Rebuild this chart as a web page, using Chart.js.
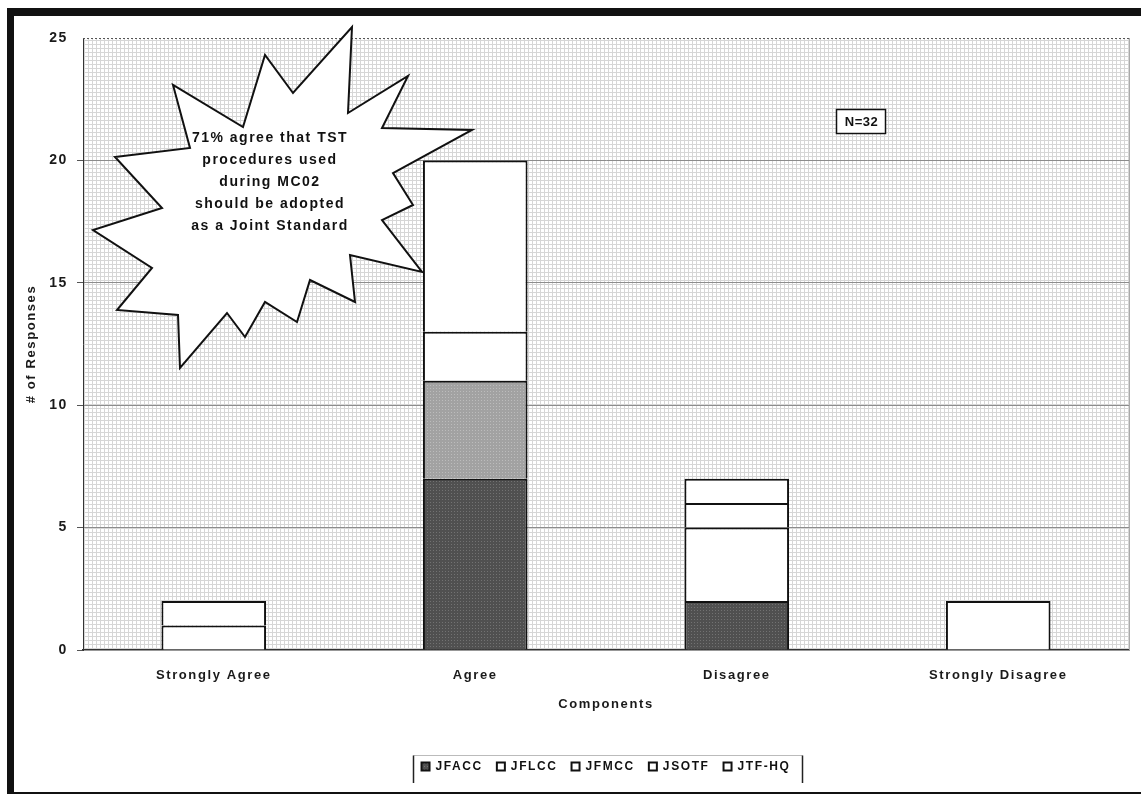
<!DOCTYPE html>
<html><head><meta charset="utf-8">
<script src="https://cdn.jsdelivr.net/npm/chart.js@4/dist/chart.umd.min.js"></script>
<style>html,body{margin:0;padding:0;background:#fff;}#wrap{position:relative;width:1141px;height:794px;}</style>
</head><body><div id="wrap"><canvas id="c" width="1141" height="794"></canvas></div>
<script>
const categories = ['Strongly Agree', 'Agree', 'Disagree', 'Strongly Disagree'];
const seriesNames = ['JFACC', 'JFLCC', 'JFMCC', 'JSOTF', 'JTF-HQ'];
const JFACC = [0, 7, 2, 0];
const JFLCC = [0, 4, 0, 0];
const JFMCC = [1, 2, 3, 0];
const JSOTF = [1, 7, 1, 0];
const JTFHQ = [0, 0, 1, 2];
const yTicks = [0, 5, 10, 15, 20, 25];
const xTitle = 'Components';
const yTitle = '# of Responses';
const calloutLines = ['71% agree that TST', 'procedures used', 'during MC02', 'should be adopted', 'as a Joint Standard'];
const sampleLabel = 'N=32';

const FAMILY = '"Liberation Sans", Arial, sans-serif';
Chart.defaults.font.family = FAMILY;

function gridPattern(bg, fg, n) {
  const c = document.createElement('canvas'); c.width = n; c.height = n;
  const g = c.getContext('2d');
  g.fillStyle = bg; g.fillRect(0, 0, n, n);
  g.fillStyle = fg; g.fillRect(0, 0, 1, n); g.fillRect(0, 0, n, 1);
  return g.createPattern(c, 'repeat');
}
function dotPattern(bg, fg) {
  const c = document.createElement('canvas'); c.width = 3; c.height = 3;
  const g = c.getContext('2d');
  g.fillStyle = bg; g.fillRect(0, 0, 3, 3);
  g.fillStyle = fg; g.fillRect(1, 1, 1, 1);
  return g.createPattern(c, 'repeat');
}
const ctxMain = document.getElementById('c').getContext('2d');
const plotBg = gridPattern('#ffffff', '#d6d6d6', 4);
const darkFill = dotPattern('#505050', '#727272');
const grayFill = dotPattern('#a2a2a2', '#bcbcbc');

const seriesData = [JFACC, JFLCC, JFMCC, JSOTF, JTFHQ];
const seriesFill = [
  darkFill,
  (c) => (c.type === 'data' && c.dataIndex === 1) ? grayFill : '#ffffff',
  '#ffffff', '#ffffff', '#ffffff'
];

const datasets = seriesNames.map((name, i) => ({
  label: name,
  data: seriesData[i],
  backgroundColor: seriesFill[i],
  borderColor: '#111111',
  borderWidth: 2,
  barPercentage: 0.4,
  categoryPercentage: 1.0
}));

// star-shaped callout outline (pixel positions of the decoration)
const starPts = [[352,27],[348,113],[408,76],[382,128],[472,130],[393,173],[413,205],[382,220],[422,272],[350,255],[355,302],[310,280],[297,322],[265,302],[245,337],[227,313],[180,368],[178,315],[117,310],[152,268],[93,230],[162,208],[115,157],[190,148],[173,85],[243,127],[265,55],[293,93]];

const SPACING = '1.6px';
const spacingPlugin = {
  id: 'spacing',
  beforeUpdate(chart) { chart.ctx.letterSpacing = SPACING; },
  beforeDraw(chart) {
    const {ctx, chartArea: a} = chart;
    ctx.letterSpacing = SPACING;
    ctx.save();
    ctx.fillStyle = plotBg;
    ctx.fillRect(a.left, a.top, a.right - a.left, a.bottom - a.top);
    ctx.restore();
  },
  beforeDatasetsDraw(chart) {
    const {ctx, chartArea: a} = chart;
    const y = chart.scales.y.getPixelForValue(yTicks[yTicks.length - 1]);
    ctx.save();
    ctx.strokeStyle = '#555'; ctx.lineWidth = 1; ctx.setLineDash([2, 2]);
    ctx.beginPath(); ctx.moveTo(a.left, Math.round(y) + 0.5); ctx.lineTo(a.right, Math.round(y) + 0.5); ctx.stroke();
    ctx.setLineDash([]);
    ctx.strokeStyle = '#aaa';
    ctx.beginPath(); ctx.moveTo(a.right + 0.5, a.top); ctx.lineTo(a.right + 0.5, a.bottom); ctx.stroke();
    ctx.restore();
  },
  afterDatasetsDraw(chart) {
    const ctx = chart.ctx;
    ctx.save();
    ctx.beginPath();
    starPts.forEach((p, i) => i ? ctx.lineTo(p[0], p[1]) : ctx.moveTo(p[0], p[1]));
    ctx.closePath();
    ctx.fillStyle = '#ffffff'; ctx.fill();
    ctx.lineWidth = 2; ctx.strokeStyle = '#111'; ctx.lineJoin = 'miter'; ctx.stroke();
    ctx.fillStyle = '#111';
    ctx.font = 'bold 14px ' + FAMILY;
    ctx.letterSpacing = '1.5px';
    ctx.textAlign = 'center'; ctx.textBaseline = 'middle';
    calloutLines.forEach((t, i) => ctx.fillText(t, 270, 138 + i * 22));
    ctx.fillStyle = '#fff';
    ctx.fillRect(836, 109, 50, 24);
    ctx.lineWidth = 1.5; ctx.strokeStyle = '#111';
    ctx.strokeRect(836.5, 109.5, 49, 24);
    ctx.fillStyle = '#111';
    ctx.font = 'bold 13px ' + FAMILY;
    ctx.letterSpacing = '0.5px';
    ctx.fillText(sampleLabel, 861.5, 122);
    ctx.restore();
  },
  afterDraw(chart) {
    const ctx = chart.ctx;
    ctx.save();
    const hb = chart.legend.legendHitBoxes;
    if (hb && hb.length) {
      const l = Math.round(Math.min(...hb.map(h => h.left)) - 9) + 0.5;
      const r = Math.round(Math.max(...hb.map(h => h.left + h.width)) + 12) + 0.5;
      const cy = hb[0].top + hb[0].height / 2;
      const t = Math.round(cy - 12) + 0.5, b = Math.round(cy + 16);
      ctx.strokeStyle = '#bbb'; ctx.lineWidth = 1;
      ctx.beginPath(); ctx.moveTo(l, t); ctx.lineTo(r, t); ctx.stroke();
      ctx.strokeStyle = '#222'; ctx.lineWidth = 1.5;
      ctx.beginPath(); ctx.moveTo(l, t); ctx.lineTo(l, b); ctx.moveTo(r, t); ctx.lineTo(r, b); ctx.stroke();
    }
    ctx.fillStyle = '#111';
    ctx.fillRect(7, 8, 1134, 8);
    ctx.fillRect(7, 8, 7, 786);
    ctx.fillRect(7, 792, 1134, 2);
    ctx.restore();
  }
};

const xFont = {family: FAMILY, size: 13, weight: 'bold'};
const yFont = {family: FAMILY, size: 14, weight: 'bold'};

new Chart(ctxMain, {
  type: 'bar',
  data: {labels: categories, datasets},
  plugins: [spacingPlugin],
  options: {
    responsive: false,
    animation: false,
    events: [],
    layout: {padding: {top: 38, right: 12, left: 14, bottom: 11.5}},
    plugins: {
      tooltip: {enabled: false},
      legend: {
        position: 'bottom',
        fullSize: false,
        labels: {boxWidth: 8, boxHeight: 8, padding: 14, color: '#111', font: {family: FAMILY, size: 12, weight: 'bold'}}
      }
    },
    scales: {
      x: {
        stacked: true,
        grid: {display: false},
        border: {color: '#333', width: 1.5},
        ticks: {color: '#1a1a1a', padding: 10, font: xFont, maxRotation: 0},
        title: {display: true, text: xTitle, color: '#1a1a1a', font: xFont, padding: {top: 0, bottom: 34}},
        afterFit: (s) => { s.height = 96.5; }
      },
      y: {
        stacked: true,
        min: 0, max: 25,
        afterBuildTicks: (s) => { s.ticks = yTicks.map(v => ({value: v})); },
        ticks: {color: '#1a1a1a', padding: 9, font: yFont},
        grid: {
          color: (c) => (c.tick && (c.tick.value === 0 || c.tick.value === 25)) ? 'rgba(0,0,0,0)' : '#8c8c8c',
          tickColor: (c) => (c.tick && c.tick.value === 25) ? 'rgba(0,0,0,0)' : '#555',
          tickLength: 6,
          lineWidth: 1
        },
        border: {color: '#333', width: 1},
        title: {display: true, text: yTitle, color: '#1a1a1a', font: xFont, padding: {top: 10, bottom: 0}},
        afterFit: (s) => { s.width = 69; }
      }
    }
  }
});
</script>
</body></html>
